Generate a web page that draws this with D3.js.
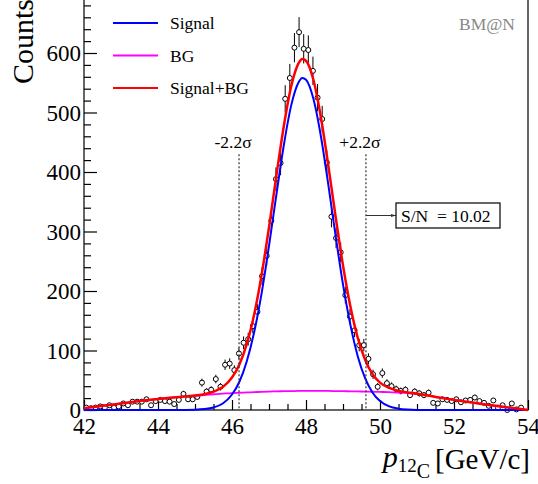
<!DOCTYPE html>
<html>
<head>
<meta charset="utf-8">
<script src="https://cdn.jsdelivr.net/npm/d3@7"></script>
<style>
  html, body { margin: 0; padding: 0; background: #fff; }
  svg { display: block; }
</style>
</head>
<body>
<div id="vis"></div>
<script>
// ── DATA ──────────────────────────────────────────────────────────────────────
// histogram: 96 bins of 0.125 GeV/c from 42 (last bin empty)
const binStart = 42;
const binWidth = 0.125;
const counts = [
   4,  3,  4,  6,  4,  8,  4,  6, 11,  8, 14, 14, 14, 18,  8, 15,
  17, 15, 14, 10, 17, 27, 18, 18, 22, 46, 31, 34, 52, 39, 76, 78,
  67, 95,113,119,141,165,225,259,318,388,415,523,558,609,635,607,
 605,570,525,489,416,325,289,265,193,157,134,109,109, 86, 60, 39,
  62, 45, 40, 35, 32, 34, 25, 31, 28, 25, 29, 12, 11, 18, 17, 15,
  18, 13, 16, 17, 21, 15, 12,  7, 16,  4,  8,  0, 11,  1,  4
];

// fit curves
const curveX = [42, 42.5, 43, 43.5, 44, 44.5, 45, 45.25, 45.5, 45.75, 46, 46.2, 46.4, 46.6, 46.8,
  47, 47.2, 47.4, 47.6, 47.8, 47.9, 48, 48.2, 48.4, 48.6, 48.8, 49, 49.2, 49.4, 49.6, 49.8,
  50, 50.25, 50.5, 50.75, 51, 51.5, 52, 52.5, 53, 53.5, 54];
const signal = [0, 0, 0, 0, 0, 0, 0.5, 1.5, 4.3, 11, 26, 47.5, 82, 131, 196,
  276, 362, 445, 512, 551, 558, 555, 523, 461, 380, 293, 211, 143, 90, 53, 29,
  15, 6, 2.2, 0.7, 0.2, 0, 0, 0, 0, 0, 0];
const background = [3, 7, 11, 15, 18.5, 21.5, 24, 25, 26.5, 27.5, 28.5, 29, 29.5, 30, 30.5,
  31, 31.3, 31.6, 31.8, 32, 32, 32, 32, 32, 32, 31.8, 31.6, 31.4, 31.2, 31, 30.7,
  30.4, 30, 29.3, 28.5, 27, 22, 17, 12.5, 8, 4, 0];
const total = [3, 7, 11, 15, 18.5, 21.5, 24.5, 26.5, 30.8, 38.5, 54.5, 76.5, 111, 161, 227,
  307, 394, 477, 544, 583, 590, 587, 555, 493, 412, 325, 243, 174, 121, 84, 60,
  46, 37, 32, 29.5, 27.5, 22, 17, 12.5, 8, 4, 0];

const sigmaLines = [46.19, 49.62];
const sigmaLabels = ["-2.2σ", "+2.2σ"];
const sigmaLineTop = 430;

const legendNames = ["Signal", "BG", "Signal+BG"];
const legendColors = ["#0000ff", "#ff00ff", "#ff0000"];

const xMajor = [42, 44, 46, 48, 50, 52, 54];
const yMajor = [0, 100, 200, 300, 400, 500, 600];
const snText = "S/N  = 10.02";

// ── LAYOUT ────────────────────────────────────────────────────────────────────
const width = 538, height = 484;
const plotLeft = 84, plotRight = 528, plotBottom = 410;
const yMax = 692;
const serif = '"Liberation Serif", "Times New Roman", Times, serif';

const svg = d3.select("#vis").append("svg")
  .attr("width", width).attr("height", height)
  .style("font-family", serif);

const x = d3.scaleLinear([42, 54], [plotLeft, plotRight]);
const y = d3.scaleLinear([0, yMax], [plotBottom, plotBottom - yMax * 0.595]);

// frame
svg.append("rect")
  .attr("x", x(42)).attr("y", y(yMax))
  .attr("width", x(54) - x(42)).attr("height", y(0) - y(yMax))
  .attr("fill", "none").attr("stroke", "#000").attr("stroke-width", 1.2);

// ── AXES ──────────────────────────────────────────────────────────────────────
const tickFont = "23px";
const yMinor = d3.range(0, yMax, 20).filter(v => v % 100 !== 0);
const xMinor = d3.range(42, 54.001, 0.5).filter(v => v % 2 !== 0);

const yAxis = svg.append("g").attr("transform", `translate(${plotLeft},0)`)
  .call(d3.axisLeft(y).tickValues(yMajor).tickSizeInner(-13).tickSizeOuter(0).tickPadding(3));
yAxis.append("g")
  .call(d3.axisLeft(y).tickValues(yMinor).tickSizeInner(-7).tickSizeOuter(0).tickFormat(""));

const xAxis = svg.append("g").attr("transform", `translate(0,${plotBottom})`)
  .call(d3.axisBottom(x).tickValues(xMajor).tickSizeInner(-10).tickSizeOuter(0).tickPadding(7).tickFormat(d3.format("d")));
xAxis.append("g")
  .call(d3.axisBottom(x).tickValues(xMinor).tickSizeInner(-6).tickSizeOuter(0).tickFormat(""));

[yAxis, xAxis].forEach(g => {
  g.selectAll(".domain").remove();
  g.selectAll("line").attr("stroke", "#000").attr("stroke-width", 1.2);
  g.selectAll("text")
    .style("font-family", serif)
    .style("font-size", tickFont)
    .attr("fill", "#000");
});
yAxis.selectAll("text").attr("dy", "0.34em");
xAxis.selectAll("text").attr("dy", "0.72em");

// axis titles
svg.append("text")
  .attr("transform", "translate(33,-1) rotate(-90)")
  .attr("text-anchor", "end")
  .attr("font-size", 30)
  .text("Counts");

const xt = svg.append("text")
  .attr("x", 530).attr("y", 467)
  .attr("text-anchor", "end")
  .attr("font-size", 30);
xt.append("tspan").attr("font-style", "italic").text("p");
xt.append("tspan").attr("font-size", 19).attr("dy", 5).text("12");
xt.append("tspan").attr("font-size", 20).attr("dy", 6).text("C");
xt.append("tspan").attr("font-size", 29).attr("dy", -9).attr("dx", 5).text("[GeV/c]");

// ── DATA POINTS ───────────────────────────────────────────────────────────────
const points = counts.map((c, i) => ({ xv: binStart + binWidth * (i + 0.5), c }));

const pts = svg.append("g");
pts.selectAll("line")
  .data(points)
  .join("line")
  .attr("x1", d => x(d.xv)).attr("x2", d => x(d.xv))
  .attr("y1", d => y(d.c + Math.sqrt(d.c)))
  .attr("y2", d => y(Math.max(0, d.c - Math.sqrt(d.c))))
  .attr("stroke", "#000").attr("stroke-width", 1);
pts.selectAll("circle")
  .data(points)
  .join("circle")
  .attr("cx", d => x(d.xv)).attr("cy", d => y(d.c))
  .attr("r", 2.5)
  .attr("fill", "#fff").attr("stroke", "#000").attr("stroke-width", 1);

// ── CURVES ────────────────────────────────────────────────────────────────────
const line = d3.line()
  .x((d, i) => x(curveX[i]))
  .y(d => y(d))
  .curve(d3.curveMonotoneX);

svg.append("path").attr("d", line(background))
  .attr("fill", "none").attr("stroke", legendColors[1]).attr("stroke-width", 1.8);
svg.append("path").attr("d", line(signal))
  .attr("fill", "none").attr("stroke", legendColors[0]).attr("stroke-width", 2);
svg.append("path").attr("d", line(total))
  .attr("fill", "none").attr("stroke", legendColors[2]).attr("stroke-width", 2.5);

// ±2.2σ lines
const sig = svg.append("g");
sig.selectAll("line")
  .data(sigmaLines)
  .join("line")
  .attr("x1", d => x(d)).attr("x2", d => x(d))
  .attr("y1", y(sigmaLineTop)).attr("y2", y(0))
  .attr("stroke", "#333").attr("stroke-width", 1.2)
  .attr("stroke-dasharray", "2,2");
sig.selectAll("text")
  .data(sigmaLines)
  .join("text")
  .attr("x", d => x(d) - 6)
  .attr("y", 148)
  .attr("text-anchor", "middle")
  .attr("font-size", 17.5)
  .text((d, i) => sigmaLabels[i]);

// S/N box with arrow
const defs = svg.append("defs");
defs.append("marker")
  .attr("id", "arrow").attr("viewBox", "0 0 10 10")
  .attr("refX", 10).attr("refY", 5)
  .attr("markerWidth", 5).attr("markerHeight", 5)
  .attr("orient", "auto")
  .append("path").attr("d", "M0,2 L10,5 L0,8 z").attr("fill", "#333");

svg.append("line")
  .attr("x1", x(sigmaLines[1])).attr("x2", 396)
  .attr("y1", 215.5).attr("y2", 215.5)
  .attr("stroke", "#333").attr("stroke-width", 1)
  .attr("marker-end", "url(#arrow)");
svg.append("rect")
  .attr("x", 396).attr("y", 203).attr("width", 104).attr("height", 25)
  .attr("fill", "#fff").attr("stroke", "#000").attr("stroke-width", 1.2);
svg.append("text")
  .attr("x", 401).attr("y", 222)
  .attr("font-size", 17.5)
  .style("white-space", "pre")
  .text(snText);

// ── LEGEND ────────────────────────────────────────────────────────────────────
const legend = svg.append("g");
const legendY = [23, 55.5, 88];
legendNames.forEach((name, i) => {
  legend.append("line")
    .attr("x1", 113).attr("x2", 158)
    .attr("y1", legendY[i]).attr("y2", legendY[i])
    .attr("stroke", legendColors[i]).attr("stroke-width", 2);
  legend.append("text")
    .attr("x", 170).attr("y", legendY[i] + 6)
    .attr("font-size", 17.5)
    .text(name);
});

svg.append("text")
  .attr("x", 515).attr("y", 30)
  .attr("text-anchor", "end")
  .attr("font-size", 17.5)
  .attr("fill", "#888")
  .text("BM@N");
</script>
</body>
</html>
